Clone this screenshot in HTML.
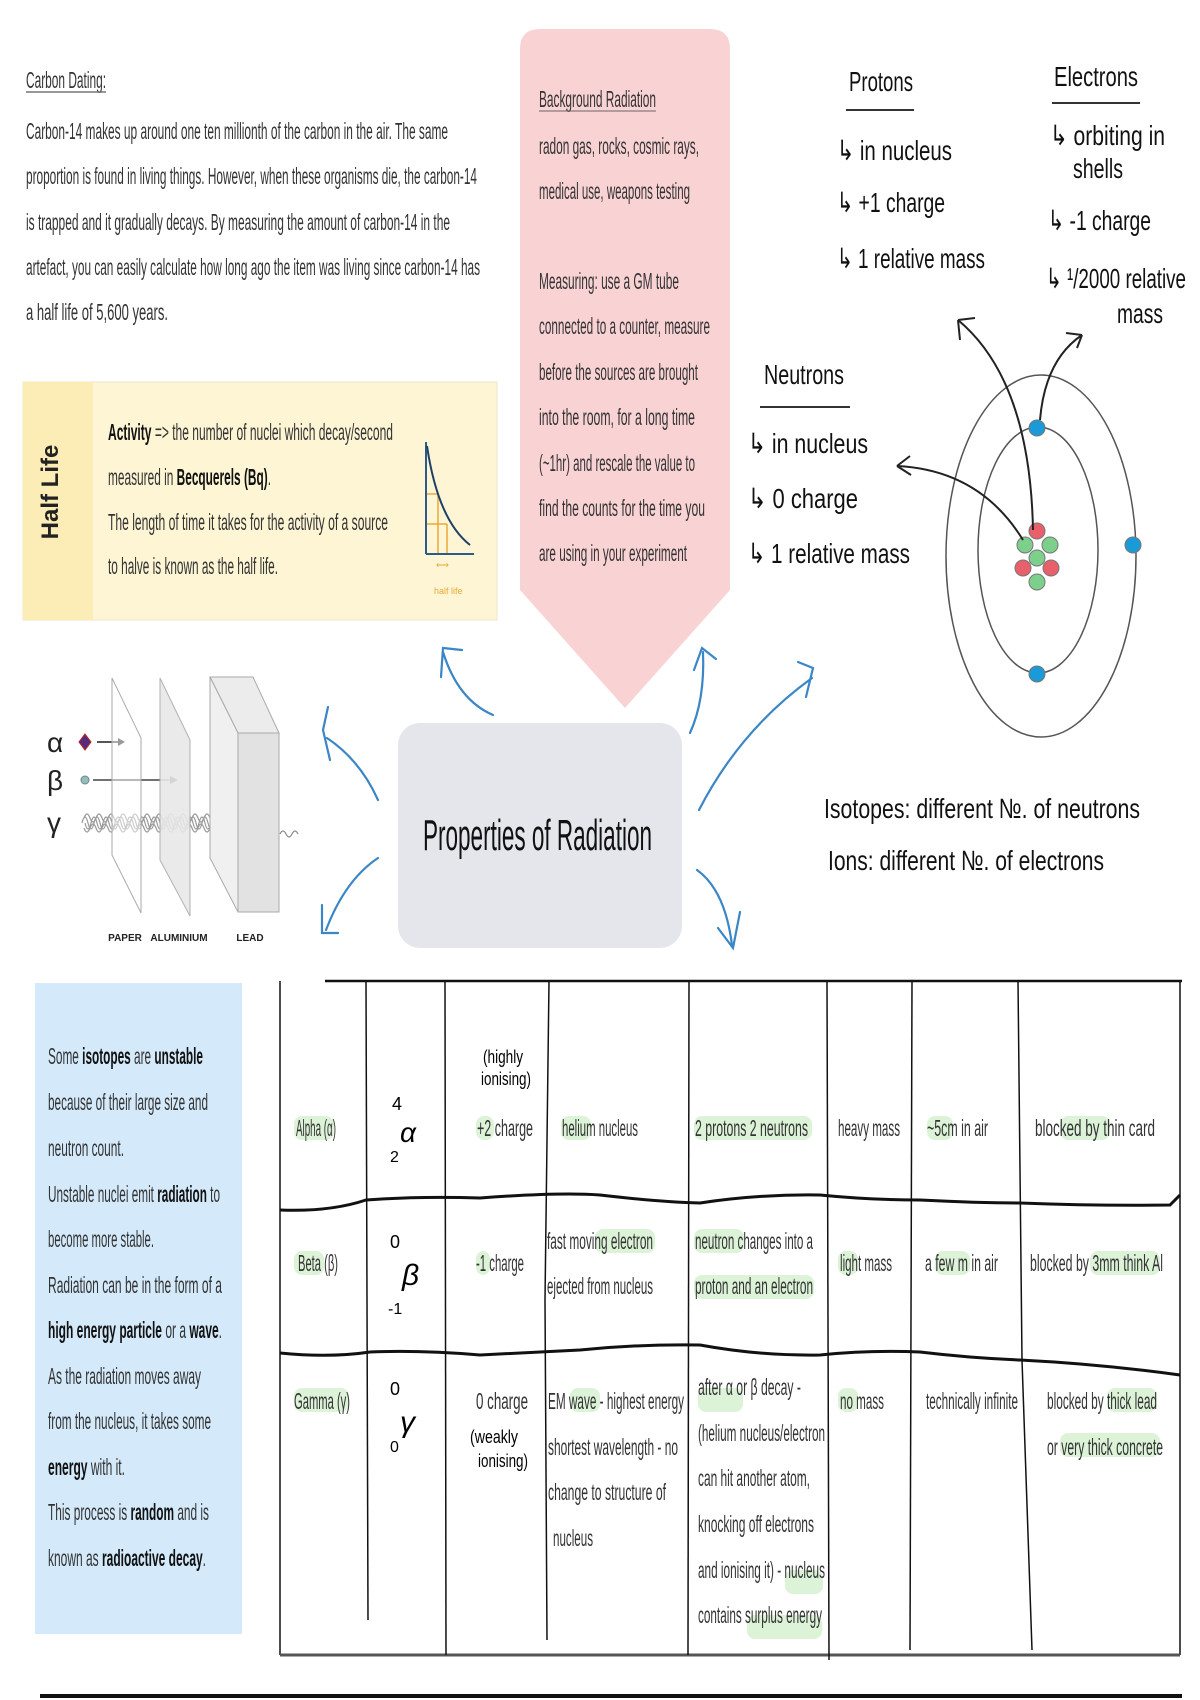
<!DOCTYPE html>
<html><head><meta charset="utf-8"><style>
html,body{margin:0;padding:0;background:#fff;}
svg{display:block;}
text{font-family:"Liberation Sans",sans-serif;}
.t{font-size:23px;fill:#333;}
.h{font-size:28px;fill:#111;}
</style></head><body>
<svg width="1200" height="1700" viewBox="0 0 1200 1700" xmlns="http://www.w3.org/2000/svg">
<rect width="1200" height="1700" fill="#fff"/>

<!-- Carbon dating -->
<text class="t" x="26" y="88" textLength="80" lengthAdjust="spacingAndGlyphs">Carbon Dating:</text>
<line x1="26" y1="92" x2="106" y2="92" stroke="#777" stroke-width="1.5"/>
<text class="t" x="26" y="139" textLength="422" lengthAdjust="spacingAndGlyphs">Carbon-14 makes up around one ten millionth of the carbon in the air. The same</text>
<text class="t" x="26" y="184" textLength="451" lengthAdjust="spacingAndGlyphs">proportion is found in living things. However, when these organisms die, the carbon-14</text>
<text class="t" x="26" y="230" textLength="424" lengthAdjust="spacingAndGlyphs">is trapped and it gradually decays. By measuring the amount of carbon-14 in the</text>
<text class="t" x="26" y="275" textLength="454" lengthAdjust="spacingAndGlyphs">artefact, you can easily calculate how long ago the item was living since carbon-14 has</text>
<text class="t" x="26" y="320" textLength="142" lengthAdjust="spacingAndGlyphs">a half life of 5,600 years.</text>

<!-- Half life box -->
<rect x="23" y="382" width="474" height="238" fill="#fdf5d4" stroke="#eee6cc"/>
<rect x="23" y="382" width="70" height="238" fill="#fcecb6"/>
<text x="66" y="500" font-size="24" font-weight="bold" fill="#222" text-anchor="middle" transform="rotate(-90 58 500)">Half Life</text>
<text class="t" x="108" y="440" textLength="285" lengthAdjust="spacingAndGlyphs"><tspan font-weight="bold" fill="#111">Activity</tspan> =&gt; the number of nuclei which decay/second</text>
<text class="t" x="108" y="485" textLength="163" lengthAdjust="spacingAndGlyphs">measured in <tspan font-weight="bold" fill="#111">Becquerels (Bq)</tspan>.</text>
<text class="t" x="108" y="530" textLength="280" lengthAdjust="spacingAndGlyphs">The length of time it takes for the activity of a source</text>
<text class="t" x="108" y="574" textLength="170" lengthAdjust="spacingAndGlyphs">to halve is known as the half life.</text>
<g fill="none">
<line x1="426" y1="494" x2="438" y2="494" stroke="#e8a93a" stroke-width="1.5"/>
<line x1="426" y1="524" x2="447" y2="524" stroke="#e8a93a" stroke-width="1.5"/>
<line x1="438" y1="494" x2="438" y2="554" stroke="#e8a93a" stroke-width="1.5"/>
<line x1="447" y1="524" x2="447" y2="554" stroke="#e8a93a" stroke-width="1.5"/>
<line x1="426" y1="442" x2="426" y2="554" stroke="#2c5a8a" stroke-width="2"/>
<line x1="426" y1="554" x2="474" y2="554" stroke="#2c5a8a" stroke-width="2"/>
<path d="M427 446 Q438 520 470 545" stroke="#1f3f6a" stroke-width="2"/>
</g>
<text x="434" y="594" font-size="9" fill="#e8a93a">half life</text>
<text x="436" y="568" font-size="9" fill="#e8a93a">⟷</text>

<!-- Pink background radiation -->
<path d="M540 29 H710 Q730 29 730 49 V590 L625 708 L520 590 V49 Q520 29 540 29 Z" fill="#f9d2d4"/>
<text class="t" x="539" y="107" textLength="117" lengthAdjust="spacingAndGlyphs">Background Radiation</text>
<line x1="539" y1="111" x2="656" y2="111" stroke="#666"/>
<text class="t" x="539" y="154" textLength="160" lengthAdjust="spacingAndGlyphs">radon gas, rocks, cosmic rays,</text>
<text class="t" x="539" y="199" textLength="151" lengthAdjust="spacingAndGlyphs">medical use, weapons testing</text>
<text class="t" x="539" y="289" textLength="140" lengthAdjust="spacingAndGlyphs">Measuring: use a GM tube</text>
<text class="t" x="539" y="334" textLength="171" lengthAdjust="spacingAndGlyphs">connected to a counter, measure</text>
<text class="t" x="539" y="380" textLength="159" lengthAdjust="spacingAndGlyphs">before the sources are brought</text>
<text class="t" x="539" y="425" textLength="156" lengthAdjust="spacingAndGlyphs">into the room, for a long time</text>
<text class="t" x="539" y="471" textLength="156" lengthAdjust="spacingAndGlyphs">(~1hr) and rescale the value to</text>
<text class="t" x="539" y="516" textLength="166" lengthAdjust="spacingAndGlyphs">find the counts for the time you</text>
<text class="t" x="539" y="561" textLength="148" lengthAdjust="spacingAndGlyphs">are using in your experiment</text>

<!-- Protons / Electrons / Neutrons -->
<text class="h" x="849" y="91" textLength="64" lengthAdjust="spacingAndGlyphs">Protons</text>
<line x1="846" y1="110" x2="914" y2="110" stroke="#333" stroke-width="2"/>
<text class="h" x="837" y="160" textLength="115" lengthAdjust="spacingAndGlyphs">↳ in nucleus</text>
<text class="h" x="837" y="212" textLength="108" lengthAdjust="spacingAndGlyphs">↳ +1 charge</text>
<text class="h" x="837" y="268" textLength="148" lengthAdjust="spacingAndGlyphs">↳ 1 relative mass</text>
<text class="h" x="1054" y="86" textLength="84" lengthAdjust="spacingAndGlyphs">Electrons</text>
<line x1="1052" y1="103" x2="1140" y2="103" stroke="#333" stroke-width="2"/>
<text class="h" x="1050" y="145" textLength="115" lengthAdjust="spacingAndGlyphs">↳ orbiting in</text>
<text class="h" x="1073" y="178" textLength="50" lengthAdjust="spacingAndGlyphs">shells</text>
<text class="h" x="1048" y="230" textLength="103" lengthAdjust="spacingAndGlyphs">↳ -1 charge</text>
<text class="h" x="1046" y="288" textLength="140" lengthAdjust="spacingAndGlyphs">↳ ¹/2000 relative</text>
<text class="h" x="1117" y="323" textLength="46" lengthAdjust="spacingAndGlyphs">mass</text>
<text class="h" x="764" y="384" textLength="80" lengthAdjust="spacingAndGlyphs">Neutrons</text>
<line x1="760" y1="407" x2="850" y2="407" stroke="#333" stroke-width="2"/>
<text class="h" x="748" y="453" textLength="120" lengthAdjust="spacingAndGlyphs">↳ in nucleus</text>
<text class="h" x="748" y="508" textLength="110" lengthAdjust="spacingAndGlyphs">↳ 0 charge</text>
<text class="h" x="748" y="563" textLength="162" lengthAdjust="spacingAndGlyphs">↳ 1 relative mass</text>

<!-- Atom -->
<g fill="none" stroke="#555" stroke-width="1.5">
<ellipse cx="1041" cy="556" rx="95" ry="181"/>
<ellipse cx="1038" cy="550" rx="60" ry="123"/>
</g>
<g stroke="#777" stroke-width="1">
<circle cx="1037" cy="428" r="8" fill="#1a9ad6"/>
<circle cx="1133" cy="545" r="8" fill="#1a9ad6"/>
<circle cx="1037" cy="674" r="8" fill="#1a9ad6"/>
<circle cx="1037" cy="531" r="8" fill="#e8606a"/>
<circle cx="1025" cy="545" r="8" fill="#7cd08c"/>
<circle cx="1050" cy="545" r="8" fill="#7cd08c"/>
<circle cx="1037" cy="558" r="8" fill="#7cd08c"/>
<circle cx="1023" cy="568" r="8" fill="#e8606a"/>
<circle cx="1051" cy="568" r="8" fill="#e8606a"/>
<circle cx="1037" cy="582" r="8" fill="#7cd08c"/>
</g>
<g fill="none" stroke="#222" stroke-width="2">
<path d="M1033 530 Q1030 380 958 320"/>
<path d="M958 320 L960 340 M958 320 L975 318"/>
<path d="M1040 420 Q1045 360 1082 335"/>
<path d="M1082 335 L1066 333 M1082 335 L1077 348"/>
<path d="M1023 540 Q980 470 897 466"/>
<path d="M897 466 L910 456 M897 466 L911 475"/>
</g>
<text class="h" x="824" y="818" textLength="316" lengthAdjust="spacingAndGlyphs">Isotopes: different №. of neutrons</text>
<text class="h" x="828" y="870" textLength="276" lengthAdjust="spacingAndGlyphs">Ions: different №. of electrons</text>

<!-- Central -->
<rect x="398" y="723" width="284" height="225" rx="22" fill="#e4e6ec"/>
<text x="423" y="850" font-size="44" fill="#111" textLength="229" lengthAdjust="spacingAndGlyphs">Properties of Radiation</text>

<!-- Blue arrows -->
<g fill="none" stroke="#3a86c6" stroke-width="2.2" stroke-linecap="round">
<path d="M493 715 Q458 700 443 652"/><path d="M441 677 L443 648 L462 650"/>
<path d="M690 733 Q705 700 703 652"/><path d="M694 670 L702 648 L716 659"/>
<path d="M699 810 Q740 730 812 678"/><path d="M798 662 L813 668 L806 697"/>
<path d="M697 870 Q725 890 732 945"/><path d="M718 928 L733 948 L740 912"/>
<path d="M378 800 Q360 760 327 738"/><path d="M330 760 L323 730 L328 707"/>
<path d="M378 858 Q345 880 326 930"/><path d="M322 905 L322 933 L338 933"/>
</g>

<!-- Penetration diagram -->
<text x="47" y="752" font-size="28" fill="#222">α</text>
<text x="47" y="790" font-size="28" fill="#222">β</text>
<text x="47" y="832" font-size="28" fill="#222">γ</text>
<path d="M85 734 L91 742 L85 750 L79 742Z" fill="#5a2a7a" stroke="#b22" stroke-width="1"/>
<line x1="97" y1="742" x2="122" y2="742" stroke="#555" stroke-width="2"/>
<path d="M118 738 L125 742 L118 746Z" fill="#333"/>
<circle cx="85" cy="780" r="4" fill="#9bb" stroke="#688"/>
<line x1="93" y1="780" x2="172" y2="780" stroke="#444" stroke-width="1.5"/>
<path d="M170 776 L178 780 L170 784Z" fill="#222"/>
<g fill="none" stroke="#999" stroke-width="1.2">
<path d="M82 823 q3 -12 6 0 t6 0 t6 0 t6 0 t6 0 t6 0 t6 0 t6 0 t6 0 t6 0 t6 0 t6 0 t6 0 t6 0 t6 0 t6 0 t6 0 t6 0 t6 0 t6 0 t6 0 t6 0 t6 0 t6 0 t6 0 t6 0 t6 0 t6 0 t6 0 t6 0 t6 0 t6 0"/>
<path d="M85 823 q3 12 6 0 t6 0 t6 0 t6 0 t6 0 t6 0 t6 0 t6 0 t6 0 t6 0 t6 0 t6 0 t6 0 t6 0 t6 0 t6 0 t6 0 t6 0 t6 0 t6 0 t6 0 t6 0 t6 0 t6 0 t6 0 t6 0 t6 0 t6 0 t6 0 t6 0"/>
<path d="M84 818 q3 -8 6 0 t6 0 t6 0 t6 0 t6 0 t6 0 t6 0 t6 0 t6 0 t6 0 t6 0 t6 0 t6 0 t6 0 t6 0 t6 0 t6 0 t6 0 t6 0 t6 0 t6 0 t6 0 t6 0 t6 0 t6 0 t6 0 t6 0 t6 0 t6 0 t6 0"/>
<path d="M84 828 q3 8 6 0 t6 0 t6 0 t6 0 t6 0 t6 0 t6 0 t6 0 t6 0 t6 0 t6 0 t6 0 t6 0 t6 0 t6 0 t6 0 t6 0 t6 0 t6 0 t6 0 t6 0 t6 0 t6 0 t6 0 t6 0 t6 0 t6 0 t6 0 t6 0 t6 0"/>
</g>
<path d="M280 834 q3 -6 6 0 t6 0 t6 0" fill="none" stroke="#888" stroke-width="1.2"/>
<path d="M112 678 L141 738 L141 913 L112 855Z" fill="rgba(255,255,255,0.5)" stroke="#aaa"/>
<path d="M160 678 L190 740 L190 916 L160 860Z" fill="#e8e8e8" stroke="#aaa" opacity="0.9"/>
<path d="M210 677 L253 677 L279 733 L238 733Z" fill="#ececec" stroke="#aaa"/>
<path d="M210 677 L238 733 L238 912 L210 858Z" fill="#f0f0f0" stroke="#aaa"/>
<rect x="238" y="733" width="41" height="179" fill="#e2e2e2" stroke="#aaa"/>
<text x="125" y="941" font-size="10" font-weight="bold" fill="#222" text-anchor="middle">PAPER</text>
<text x="179" y="941" font-size="10" font-weight="bold" fill="#222" text-anchor="middle">ALUMINIUM</text>
<text x="250" y="941" font-size="10" font-weight="bold" fill="#222" text-anchor="middle">LEAD</text>

<!-- Blue box -->
<rect x="35" y="983" width="207" height="651" fill="#d4eafb"/>
<text class="t" x="48" y="1064" textLength="155" lengthAdjust="spacingAndGlyphs">Some <tspan font-weight="bold" fill="#111">isotopes</tspan> are <tspan font-weight="bold" fill="#111">unstable</tspan></text>
<text class="t" x="48" y="1110" textLength="160" lengthAdjust="spacingAndGlyphs">because of their large size and</text>
<text class="t" x="48" y="1156" textLength="76" lengthAdjust="spacingAndGlyphs">neutron count.</text>
<text class="t" x="48" y="1202" textLength="172" lengthAdjust="spacingAndGlyphs">Unstable nuclei emit <tspan font-weight="bold" fill="#111">radiation</tspan> to</text>
<text class="t" x="48" y="1247" textLength="106" lengthAdjust="spacingAndGlyphs">become more stable.</text>
<text class="t" x="48" y="1293" textLength="174" lengthAdjust="spacingAndGlyphs">Radiation can be in the form of a</text>
<text class="t" x="48" y="1338" textLength="174" lengthAdjust="spacingAndGlyphs"><tspan font-weight="bold" fill="#111">high energy particle</tspan> or a <tspan font-weight="bold" fill="#111">wave</tspan>.</text>
<text class="t" x="48" y="1384" textLength="153" lengthAdjust="spacingAndGlyphs">As the radiation moves away</text>
<text class="t" x="48" y="1429" textLength="163" lengthAdjust="spacingAndGlyphs">from the nucleus, it takes some</text>
<text class="t" x="48" y="1475" textLength="77" lengthAdjust="spacingAndGlyphs"><tspan font-weight="bold" fill="#111">energy</tspan> with it.</text>
<text class="t" x="48" y="1520" textLength="161" lengthAdjust="spacingAndGlyphs">This process is <tspan font-weight="bold" fill="#111">random</tspan> and is</text>
<text class="t" x="48" y="1566" textLength="158" lengthAdjust="spacingAndGlyphs">known as <tspan font-weight="bold" fill="#111">radioactive decay</tspan>.</text>

<!-- Table -->
<g fill="#dcf3d8">
<rect x="294" y="1116" width="40" height="24" rx="8"/>
<rect x="476" y="1116" width="18" height="24" rx="8"/>
<rect x="561" y="1116" width="30" height="24" rx="8"/>
<rect x="694" y="1116" width="118" height="24" rx="8"/>
<rect x="927" y="1116" width="26" height="24" rx="8"/>
<rect x="1060" y="1116" width="50" height="24" rx="8"/>
<rect x="294" y="1251" width="30" height="24" rx="8"/>
<rect x="476" y="1251" width="14" height="24" rx="8"/>
<rect x="595" y="1229" width="60" height="24" rx="8"/>
<rect x="694" y="1229" width="50" height="24" rx="8"/>
<rect x="694" y="1275" width="120" height="24" rx="8"/>
<rect x="838" y="1251" width="20" height="24" rx="8"/>
<rect x="935" y="1251" width="35" height="24" rx="8"/>
<rect x="1090" y="1251" width="70" height="24" rx="8"/>
<rect x="294" y="1388" width="55" height="24" rx="8"/>
<rect x="570" y="1388" width="30" height="24" rx="8"/>
<rect x="698" y="1388" width="45" height="24" rx="8"/>
<rect x="838" y="1388" width="20" height="24" rx="8"/>
<rect x="1107" y="1388" width="50" height="24" rx="8"/>
<rect x="1060" y="1433" width="100" height="24" rx="8"/>
<rect x="785" y="1570" width="38" height="24" rx="8"/>
<rect x="747" y="1615" width="75" height="24" rx="8"/>
</g>
<g fill="none" stroke="#111">
<line x1="325" y1="981" x2="1182" y2="981" stroke-width="2.5"/>
<line x1="280" y1="981" x2="280" y2="1655" stroke-width="1.5"/>
<line x1="1180" y1="981" x2="1180" y2="1655" stroke-width="1.5"/>
<line x1="280" y1="1655" x2="1180" y2="1655" stroke-width="3" stroke="#555"/>
<path d="M366 981 L368 1620" stroke-width="1.5"/>
<path d="M445 981 L446 1655" stroke-width="1.5"/>
<path d="M549 981 L545 1300 L547 1640" stroke-width="1.5"/>
<path d="M689 981 L688 1655" stroke-width="1.5"/>
<path d="M827 981 L829 1660" stroke-width="1.5"/>
<path d="M912 981 L910 1650" stroke-width="1.5"/>
<path d="M1018 981 L1022 1360 L1032 1650" stroke-width="1.5"/>
<path d="M280 1210 Q330 1212 366 1200 Q420 1196 480 1198 Q560 1192 600 1195 Q660 1202 700 1203 Q760 1194 820 1195 Q870 1200 920 1200 Q980 1203 1020 1203 Q1100 1206 1170 1205 L1180 1195" stroke-width="3"/>
<path d="M280 1353 Q330 1358 370 1352 Q420 1350 480 1355 Q540 1352 580 1350 Q640 1344 700 1345 Q760 1356 820 1355 Q870 1350 920 1352 Q970 1358 1020 1360 Q1100 1364 1180 1375" stroke-width="3"/>
</g>
<text class="t" x="296" y="1136" textLength="40" lengthAdjust="spacingAndGlyphs">Alpha (α)</text>
<text x="392" y="1110" font-size="18">4</text>
<text x="400" y="1142" font-size="28" font-style="italic">α</text>
<text x="390" y="1162" font-size="16">2</text>
<text x="483" y="1063" font-size="18" textLength="40" lengthAdjust="spacingAndGlyphs">(highly</text>
<text x="481" y="1085" font-size="18" textLength="50" lengthAdjust="spacingAndGlyphs">ionising)</text>
<text class="t" x="477" y="1136" textLength="56" lengthAdjust="spacingAndGlyphs">+2 charge</text>
<text class="t" x="562" y="1136" textLength="76" lengthAdjust="spacingAndGlyphs">helium nucleus</text>
<text class="t" x="695" y="1136" textLength="113" lengthAdjust="spacingAndGlyphs">2 protons 2 neutrons</text>
<text class="t" x="838" y="1136" textLength="62" lengthAdjust="spacingAndGlyphs">heavy mass</text>
<text class="t" x="927" y="1136" textLength="61" lengthAdjust="spacingAndGlyphs">~5cm in air</text>
<text class="t" x="1035" y="1136" textLength="120" lengthAdjust="spacingAndGlyphs">blocked by thin card</text>

<text class="t" x="298" y="1271" textLength="40" lengthAdjust="spacingAndGlyphs">Beta (β)</text>
<text x="390" y="1248" font-size="18">0</text>
<text x="402" y="1285" font-size="30" font-style="italic">β</text>
<text x="388" y="1314" font-size="16">-1</text>
<text class="t" x="476" y="1271" textLength="48" lengthAdjust="spacingAndGlyphs">-1 charge</text>
<text class="t" x="547" y="1249" textLength="106" lengthAdjust="spacingAndGlyphs">fast moving electron</text>
<text class="t" x="547" y="1294" textLength="106" lengthAdjust="spacingAndGlyphs">ejected from nucleus</text>
<text class="t" x="695" y="1249" textLength="118" lengthAdjust="spacingAndGlyphs">neutron changes into a</text>
<text class="t" x="695" y="1294" textLength="118" lengthAdjust="spacingAndGlyphs">proton and an electron</text>
<text class="t" x="840" y="1271" textLength="52" lengthAdjust="spacingAndGlyphs">light mass</text>
<text class="t" x="925" y="1271" textLength="73" lengthAdjust="spacingAndGlyphs">a few m in air</text>
<text class="t" x="1030" y="1271" textLength="133" lengthAdjust="spacingAndGlyphs">blocked by 3mm think Al</text>

<text class="t" x="294" y="1409" textLength="56" lengthAdjust="spacingAndGlyphs">Gamma (γ)</text>
<text x="390" y="1395" font-size="18">0</text>
<text x="400" y="1432" font-size="30" font-style="italic">γ</text>
<text x="390" y="1452" font-size="16">0</text>
<text class="t" x="476" y="1409" textLength="52" lengthAdjust="spacingAndGlyphs">0 charge</text>
<text x="470" y="1443" font-size="18" textLength="48" lengthAdjust="spacingAndGlyphs">(weakly</text>
<text x="478" y="1467" font-size="18" textLength="50" lengthAdjust="spacingAndGlyphs">ionising)</text>
<text class="t" x="548" y="1409" textLength="136" lengthAdjust="spacingAndGlyphs">EM wave - highest energy</text>
<text class="t" x="548" y="1455" textLength="130" lengthAdjust="spacingAndGlyphs">shortest wavelength - no</text>
<text class="t" x="548" y="1500" textLength="118" lengthAdjust="spacingAndGlyphs">change to structure of</text>
<text class="t" x="553" y="1546" textLength="40" lengthAdjust="spacingAndGlyphs">nucleus</text>
<text class="t" x="698" y="1395" textLength="103" lengthAdjust="spacingAndGlyphs">after α or β decay -</text>
<text class="t" x="698" y="1441" textLength="127" lengthAdjust="spacingAndGlyphs">(helium nucleus/electron</text>
<text class="t" x="698" y="1486" textLength="112" lengthAdjust="spacingAndGlyphs">can hit another atom,</text>
<text class="t" x="698" y="1532" textLength="116" lengthAdjust="spacingAndGlyphs">knocking off electrons</text>
<text class="t" x="698" y="1578" textLength="127" lengthAdjust="spacingAndGlyphs">and ionising it) - nucleus</text>
<text class="t" x="698" y="1623" textLength="124" lengthAdjust="spacingAndGlyphs">contains surplus energy</text>
<text class="t" x="840" y="1409" textLength="44" lengthAdjust="spacingAndGlyphs">no mass</text>
<text class="t" x="926" y="1409" textLength="92" lengthAdjust="spacingAndGlyphs">technically infinite</text>
<text class="t" x="1047" y="1409" textLength="110" lengthAdjust="spacingAndGlyphs">blocked by thick lead</text>
<text class="t" x="1047" y="1455" textLength="116" lengthAdjust="spacingAndGlyphs">or very thick concrete</text>

<line x1="40" y1="1696" x2="1182" y2="1696" stroke="#111" stroke-width="4"/>
</svg>
</body></html>
